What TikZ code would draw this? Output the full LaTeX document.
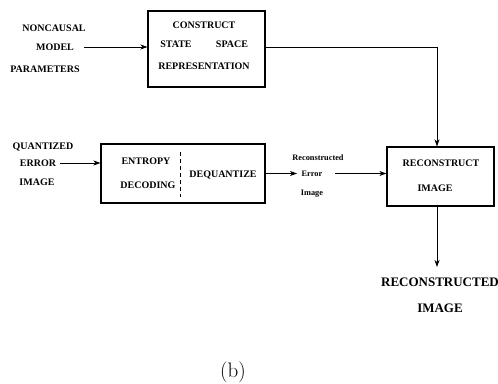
\documentclass[tikz,border=0pt]{standalone}
\usepackage{fontspec}
\newfontfamily\tnr{Liberation Serif}
\usetikzlibrary{arrows.meta}
\begin{document}
\begin{tikzpicture}[x=1pt,y=-1pt,
  lbl/.style={font=\tnr\fontsize{10}{12}\selectfont\bfseries, inner sep=0pt},
  small/.style={font=\tnr\fontsize{8.3}{10}\selectfont\bfseries, inner sep=0pt},
  big/.style={font=\tnr\fontsize{13}{15}\selectfont\bfseries, inner sep=0pt},
  blockbox/.style={draw, line width=1.1pt, inner sep=0pt},
  conn/.style={line width=0.9pt},
  arr/.style={conn, -{Stealth[length=7pt,width=5pt,inset=2pt]}}]
\useasboundingbox (0,0) rectangle (498,383);
% boxes
\node[blockbox, minimum width=117pt, minimum height=76pt] (box1) at (206.5,49) {};
\node[blockbox, minimum width=164pt, minimum height=59pt] (box2) at (183,173.5) {};
\node[blockbox, minimum width=107pt, minimum height=59pt] (box3) at (440.5,176.5) {};
% left labels
\node[lbl] (nc) at (54,28) {NONCAUSAL};
\node[lbl] (mo) at (55,47) {MODEL};
\node[lbl] (pa) at (45,69) {PARAMETERS};
\node[lbl] (qu) at (43,147) {QUANTIZED};
\node[lbl] (er) at (38,163) {ERROR};
\node[lbl] (im) at (37,182) {IMAGE};
% box texts
\node[lbl] (t1) at (204,25) {CONSTRUCT};
\node[lbl] (t2) at (176,44) {STATE};
\node[lbl] (t3) at (232,44) {SPACE};
\node[lbl] (t4) at (204,66) {REPRESENTATION};
\node[lbl] (t5) at (146,161) {ENTROPY};
\node[lbl] (t6) at (148,185) {DECODING};
\node[lbl] (t7) at (223,175) {DEQUANTIZE};
\node[lbl] (t8) at (441,163) {RECONSTRUCT};
\node[lbl] (t9) at (435,188) {IMAGE};
% middle small labels
\node[small] (r1) at (318,158) {Reconstructed};
\node[small] (r2) at (312,174) {Error};
\node[small] (r3) at (312,194) {Image};
% output labels
\node[big] (o1) at (440,282) {RECONSTRUCTED};
\node[big] (o2) at (440,308) {IMAGE};
\node[font=\fontsize{21}{24}\selectfont, inner sep=0pt] (cap) at (233,372.5) {(b)};
% coordinates
\coordinate (a1) at (84,47);
\coordinate (a2) at (60,163);
\coordinate (corner) at (437,47);
\coordinate (a3) at (297,173.5);
\coordinate (a4) at (335,173.5);
\coordinate (a5) at (437,267);
\coordinate (d1) at (180,152);
\coordinate (d2) at (180,197);
% connectors
\draw[arr] (a1) -- (box1.west |- a1);
\draw[arr] (a2) -- (box2.west |- a2);
\draw[conn] (box1.east |- corner) -- (corner);
\draw[arr] (corner) -- (corner |- box3.north);
\draw[arr] (box2.east |- a3) -- (a3);
\draw[arr] (a4) -- (box3.west |- a4);
\draw[arr] (box3.south -| a5) -- (a5);
\draw[line width=0.9pt, dash pattern=on 4pt off 3pt] (d1) -- (d2);
\end{tikzpicture}
\end{document}
